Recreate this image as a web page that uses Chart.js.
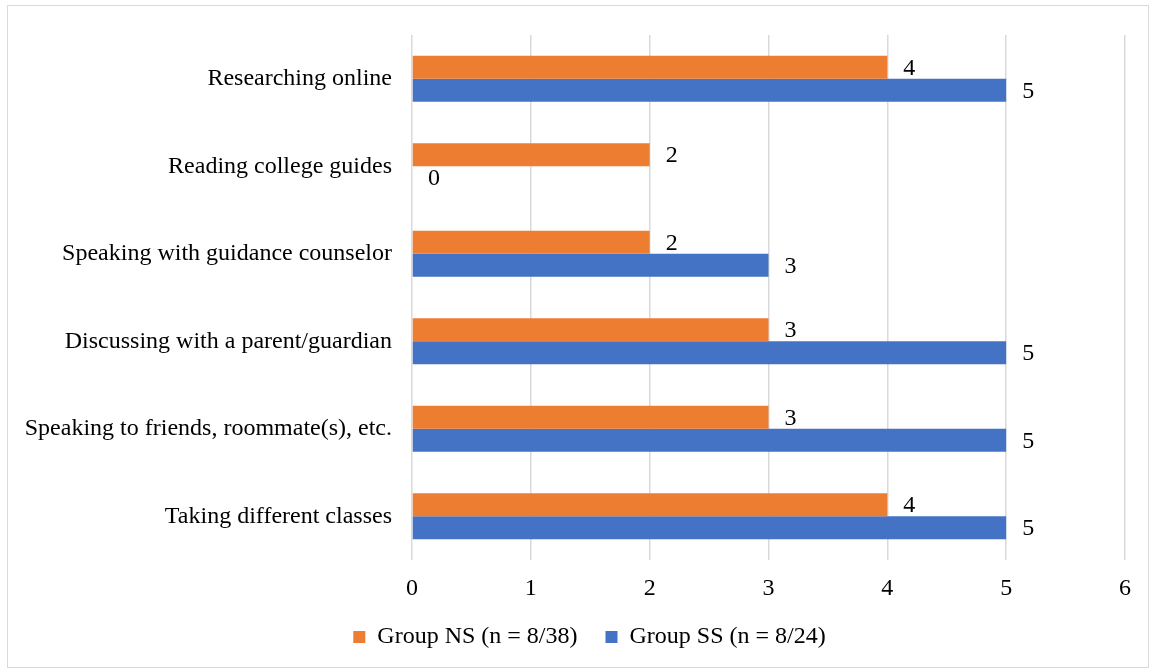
<!DOCTYPE html>
<html>
<head>
<meta charset="utf-8">
<script src="https://cdn.jsdelivr.net/npm/chart.js@4.4.1/dist/chart.umd.min.js"></script>
<style>
  html, body { margin: 0; padding: 0; background: #fff; }
  #frame {
    position: absolute; left: 7px; top: 5px;
    width: 1140px; height: 661px;
    border: 1px solid #d9d9d9;
  }
  #wrap { position: absolute; left: 0; top: 0; width: 1155px; height: 672px; }
</style>
</head>
<body>
<div id="frame"></div>
<div id="wrap"><canvas id="myChart" width="1155" height="672"></canvas></div>
<script>
const categories = [
    'Researching online',
    'Reading college guides',
    'Speaking with guidance counselor',
    'Discussing with a parent/guardian',
    'Speaking to friends, roommate(s), etc.',
    'Taking different classes'
];
const nsValues = [4, 2, 2, 3, 3, 4];
const ssValues = [5, 0, 3, 5, 5, 5];
const seriesNames = ['Group NS (n = 8/38)', 'Group SS (n = 8/24)'];
const xTicks = [0, 1, 2, 3, 4, 5, 6];

const serif = "'Liberation Serif', 'Times New Roman', serif";

// writes each bar's value just past its end
const valueLabels = {
    id: 'valueLabels',
    afterDatasetsDraw(chart) {
        const ctx = chart.ctx;
        ctx.save();
        ctx.font = '24px ' + serif;
        ctx.fillStyle = '#000';
        ctx.textAlign = 'left';
        ctx.textBaseline = 'middle';
        chart.data.datasets.forEach((ds, i) => {
            const meta = chart.getDatasetMeta(i);
            meta.data.forEach((bar, j) => {
                ctx.fillText(String(ds.data[j]), bar.x + 16, bar.y + 1);
            });
        });
        ctx.restore();
    }
};

// the long category names reach past the left padding; widen the label clip
const unclipLabels = {
    id: 'unclipLabels',
    afterLayout(chart) {
        chart.scales.y.left = 0;
    }
};

const ctx = document.getElementById('myChart').getContext('2d');
const myChart = new Chart(ctx, {
    type: 'bar',
    data: {
        labels: categories,
        datasets: [
            {
                label: seriesNames[0],
                data: nsValues,
                backgroundColor: '#ED7D31',
                barPercentage: 1,
                categoryPercentage: 0.526
            },
            {
                label: seriesNames[1],
                data: ssValues,
                backgroundColor: '#4472C4',
                barPercentage: 1,
                categoryPercentage: 0.526
            }
        ]
    },
    options: {
        indexAxis: 'y',
        responsive: false,
        animation: false,
        layout: { padding: { top: 35, right: 30, bottom: 13, left: 54 } },
        scales: {
            x: {
                min: 0,
                max: 6,
                afterBuildTicks: s => { s.ticks = xTicks.map(v => ({ value: v })); },
                afterFit: s => { s.height = 37; },
                border: { display: false },
                grid: { color: '#d9d9d9', lineWidth: 1.5, drawTicks: false },
                ticks: { color: '#000', font: { family: serif, size: 24 }, padding: 14 }
            },
            y: {
                afterFit: s => { s.width = 358; },
                border: { display: false },
                grid: { display: false },
                ticks: { color: '#000', font: { family: serif, size: 24 }, padding: 12 }
            }
        },
        plugins: {
            legend: {
                position: 'bottom',
                labels: {
                    boxWidth: 12,
                    boxHeight: 12,
                    padding: 28,
                    color: '#000',
                    font: { family: serif, size: 24 }
                }
            },
            tooltip: { enabled: false }
        }
    },
    plugins: [valueLabels, unclipLabels]
});
</script>
</body>
</html>
